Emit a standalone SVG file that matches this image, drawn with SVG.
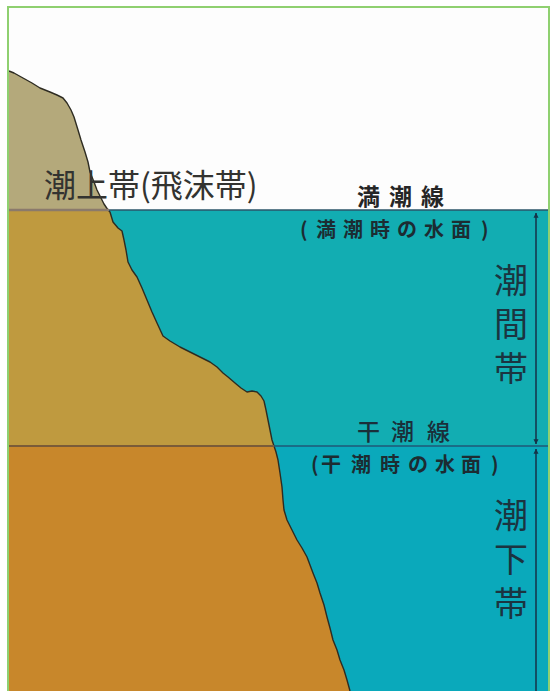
<svg xmlns="http://www.w3.org/2000/svg" width="552" height="691" viewBox="0 0 552 691">
  <defs>
    <style>
      .jp { font-family: "Noto Sans CJK JP", "Noto Sans CJK SC", sans-serif; }
      .zone { font-size: 34px; fill: #1b3440; writing-mode: vertical-rl; letter-spacing: 10px; }
      .line-lbl { font-size: 23px; }
      .sub-lbl { font-size: 20px; font-weight: bold; }
      .outline { fill: none; stroke: #2e2c22; stroke-width: 1.4; stroke-linejoin: round; }
      .dim { stroke: #163247; stroke-width: 1.5; fill: none; }
    </style>
    <marker id="head" viewBox="0 0 8 10" refX="7.5" refY="5" markerWidth="5" markerHeight="7" orient="auto-start-reverse" markerUnits="userSpaceOnUse">
      <path d="M0,1 L8,5 L0,9 Z" fill="#163247"/>
    </marker>
  </defs>

  <!-- page background and frame -->
  <rect x="0" y="0" width="552" height="691" fill="#ffffff"/>
  <rect id="sky" x="9" y="8" width="540" height="202" fill="#fdfdfd"/>

  <!-- sea: intertidal band and subtidal band -->
  <g id="sea">
    <rect x="9" y="210" width="539" height="236" fill="#12adb2"/>
    <rect x="9" y="446" width="539" height="245" fill="#0aa9bb"/>
  </g>

  <!-- rock face, three tint bands -->
  <g id="cliff">
    <path fill="#b4a97b" d="M9,71 L14,73 L23,78 L32,83 L40,88 L50,92 L57,95 L63,98 L67,103 L71,110 L74,117 L78,130 L81,140 L85,152 L88,162 L90,172 L94,182 L97,190 L101,198 L104,204 L108,210 L9,210 Z"/>
    <path fill="#bf9a3f" d="M9,210 L108,210 L110,212 L113,222 L118,228 L122,231 L124,240 L126,250 L128,262 L132,270 L137,277 L142,288 L147,300 L152,312 L157,323 L163,336 L170,341 L180,347 L190,352 L200,357 L210,362 L217,367 L223,373 L228,377 L235,383 L241,388 L247,392 L252,391 L257,392 L261,396 L264,401 L266,410 L268,420 L270,430 L272,440 L274,446 L9,446 Z"/>
    <path fill="#c8872b" d="M9,446 L274,446 L276,452 L278,460 L280,473 L282,487 L283,500 L284,510 L287,520 L292,530 L297,540 L302,548 L307,557 L310,565 L313,573 L317,583 L320,593 L324,605 L327,617 L330,628 L333,640 L337,650 L340,660 L344,670 L347,680 L350,691 L9,691 Z"/>
    <polyline class="outline" points="9,71 14,73 23,78 32,83 40,88 50,92 57,95 63,98 67,103 71,110 74,117 78,130 81,140 85,152 88,162 90,172 94,182 97,190 101,198 104,204 108,210 110,212 113,222 118,228 122,231 124,240 126,250 128,262 132,270 137,277 142,288 147,300 152,312 157,323 163,336 170,341 180,347 190,352 200,357 210,362 217,367 223,373 228,377 235,383 241,388 247,392 252,391 257,392 261,396 264,401 266,410 268,420 270,430 272,440 274,446 276,452 278,460 280,473 282,487 283,500 284,510 287,520 292,530 297,540 302,548 307,557 310,565 313,573 317,583 320,593 324,605 327,617 330,628 333,640 337,650 340,660 344,670 347,680 350,691"/>
  </g>

  <!-- tide levels -->
  <g id="tide-lines">
    <line x1="9" y1="210" x2="109" y2="210" stroke="#8a7a6c" stroke-width="2.5"/>
    <line x1="109" y1="210" x2="548" y2="210" stroke="#2b5468" stroke-width="1.5"/>
    <line x1="9" y1="446" x2="274" y2="446" stroke="#7a5b38" stroke-width="2"/>
    <line x1="274" y1="446" x2="548" y2="446" stroke="#1f5876" stroke-width="1.5"/>
  </g>

  <!-- zone extent arrows -->
  <g id="connectors">
    <line class="dim" x1="536" y1="213" x2="536" y2="444" marker-start="url(#head)" marker-end="url(#head)"/>
    <line class="dim" x1="536" y1="449" x2="536" y2="691" marker-start="url(#head)"/>
  </g>

  <!-- labels -->
  <g id="supratidal-label">
    <text class="jp" x="44" y="197" font-size="32" fill="#333330">潮上帯(飛沫帯)</text>
  </g>
  <g id="high-water-label">
    <text class="jp line-lbl" x="357 389 421" y="205" font-weight="bold" fill="#262626">満潮線</text>
    <text class="jp sub-lbl" x="300 316 343 370 397 424 451 481" y="237" fill="#1c2c32">(満潮時の水面)</text>
  </g>
  <g id="low-water-label">
    <text class="jp line-lbl" x="357 391 427" y="440" font-weight="500" fill="#1a2f3a">干潮線</text>
    <text class="jp sub-lbl" x="311 321 351 380 408 435 461 491" y="472" fill="#1c2c32">(干潮時の水面)</text>
  </g>
  <g id="intertidal-label">
    <text class="jp zone" x="511" y="263">潮間帯</text>
  </g>
  <g id="subtidal-label">
    <text class="jp zone" x="511" y="498">潮下帯</text>
  </g>

  <!-- frame -->
  <rect x="8" y="7" width="541" height="700" fill="none" stroke="#8fd070" stroke-width="2"/>
</svg>
